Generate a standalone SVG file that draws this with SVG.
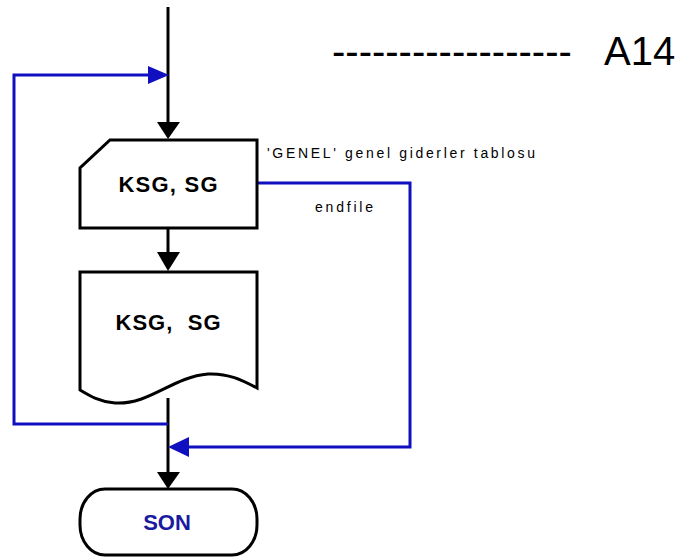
<svg xmlns="http://www.w3.org/2000/svg" width="683" height="557" viewBox="0 0 683 557">
<style>
.shape{fill:#fff;stroke:#000;stroke-width:3;stroke-linejoin:miter}
.blk{fill:none;stroke:#000;stroke-width:3}
.blu{fill:none;stroke:#1010c0;stroke-width:3}
.ahb{fill:#000}
.ahu{fill:#1010c0}
.lbl{font-family:"Liberation Sans",Arial,sans-serif;font-weight:bold;font-size:22px;fill:#000}
.small{font-family:"Liberation Sans",Arial,sans-serif;font-size:14px;fill:#000}
.big{font-family:"Liberation Sans",Arial,sans-serif;font-size:40px;fill:#000}
</style>
<rect width="683" height="557" fill="#fff"/>
<g id="connectors">
<line class="blk" x1="168" y1="7" x2="168" y2="124"/>
<polygon class="ahb" points="157,122 180,122 168,139"/>
<line class="blk" x1="168" y1="228" x2="168" y2="254"/>
<polygon class="ahb" points="157,252 180,252 168,271"/>
<line class="blk" x1="168" y1="398" x2="168" y2="474"/>
<polygon class="ahb" points="157,472 180,472 168,489"/>
<polyline class="blu" points="257,183 410,183 410,447 186,447"/>
<polygon class="ahu" points="189,437 189,457 168,447"/>
<polyline class="blu" points="168,424 14,424 14,75 150,75"/>
<polygon class="ahu" points="148,66 148,84 169,75"/>
</g>
<g id="input">
<path class="shape" d="M110,140 H257 V228 H80 V168 Z"/>
<text class="lbl" x="168" y="192" text-anchor="middle" textLength="99" lengthAdjust="spacing">KSG, SG</text>
</g>
<g id="output">
<path class="shape" d="M80,272 H257 V388 C242,380 228,373 208,374 C172,377 150,405 115,403 C100,402 90,396 80,390 Z"/>
<text class="lbl" x="168" y="330" text-anchor="middle" textLength="105" lengthAdjust="spacing" xml:space="preserve">KSG,  SG</text>
</g>
<g id="son">
<rect class="shape" x="80" y="489" width="177" height="66" rx="25" ry="30"/>
<text class="lbl" x="167" y="530" text-anchor="middle" style="fill:#1a1aa0">SON</text>
</g>
<g id="labels">
<text class="small" x="267" y="158" textLength="268" lengthAdjust="spacing">'GENEL' genel giderler tablosu</text>
<text class="small" x="315" y="212" textLength="58" lengthAdjust="spacing">endfile</text>
<text class="big" x="332" y="65">------------------<tspan x="604">A14</tspan></text>
</g>
</svg>
